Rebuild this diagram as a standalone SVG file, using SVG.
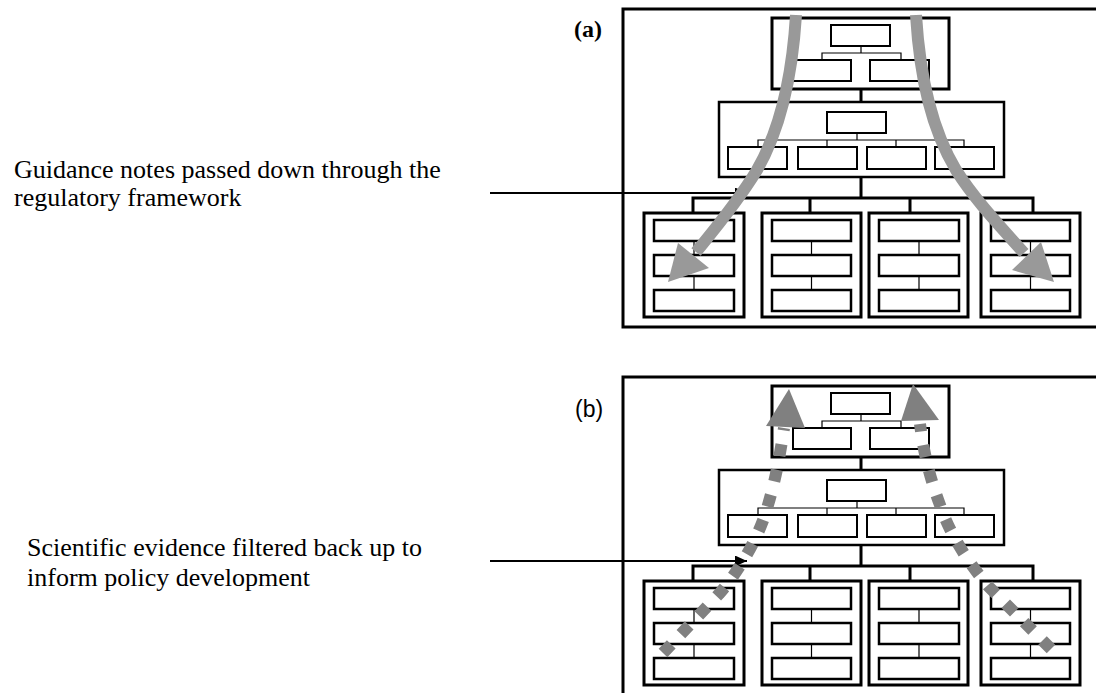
<svg xmlns="http://www.w3.org/2000/svg" width="1096" height="693" viewBox="0 0 1096 693">
<style>
.frame{fill:none;stroke:#000;stroke-width:3}
.big{fill:#fff;stroke:#000;stroke-width:3}
.mid{fill:#fff;stroke:#000;stroke-width:2.5}
.sm{fill:#fff;stroke:#000;stroke-width:2}
.thin{fill:none;stroke:#000;stroke-width:1.2}
.thick{fill:none;stroke:#000;stroke-width:3}
.conn{fill:none;stroke:#000;stroke-width:2}
.lbl{font-family:"Liberation Serif","Times New Roman",serif;font-size:26px;fill:#000}
.down{fill:none;stroke:#999;stroke-width:12}
.downhead{fill:#999}
.up{fill:none;stroke:#808080;stroke-width:12;stroke-dasharray:12 14}
.uphead{fill:#808080}
</style>
<defs>
<marker id="ah" viewBox="0 0 12 11" refX="12" refY="5.5" markerWidth="12" markerHeight="11" markerUnits="userSpaceOnUse" orient="auto">
<path d="M0,0L12,5.5L0,11z" fill="#000"/>
</marker>
</defs>
<rect width="1096" height="693" fill="#fff"/>

<!-- Panel (a) -->
<g id="a-frame"><rect class="frame" x="623" y="9" width="480" height="318"/></g>
<g id="a-label"><text x="574" y="37" font-family="Liberation Serif, serif" font-size="24" font-weight="bold">(a)</text></g>
<g id="a-text"><text class="lbl" x="14" y="178">Guidance notes passed down through the</text><text class="lbl" x="14" y="206">regulatory framework</text></g>
<g id="a-top">
<rect class="big" x="772" y="18" width="177" height="71"/>
<rect class="sm" x="831" y="25" width="59" height="21"/>
<path class="thin" d="M861,46V53M822,60V53H901V60"/>
<rect class="sm" x="793" y="60" width="58" height="21"/>
<rect class="sm" x="870" y="60" width="59" height="21"/>
</g>
<g id="a-mid">
<rect class="mid" x="719" y="102" width="285" height="75"/>
<rect class="sm" x="827" y="112" width="59" height="21"/>
<path class="thin" d="M857,133V140M758,147V140H964V147M827,140V147M896,140V147"/>
<rect class="sm" x="728" y="147" width="59" height="22"/>
<rect class="sm" x="798" y="147" width="59" height="22"/>
<rect class="sm" x="867" y="147" width="59" height="22"/>
<rect class="sm" x="935" y="147" width="59" height="22"/>
</g>
<g id="a-b1">
<rect class="big" x="644" y="213" width="100" height="104"/>
<rect class="mid" x="654" y="220" width="80" height="21"/>
<rect class="mid" x="654" y="255" width="80" height="21"/>
<rect class="mid" x="654" y="290" width="80" height="21"/>
<path class="thin" d="M694,241V255M694,276V290"/>
</g>
<g id="a-b2">
<rect class="big" x="762" y="213" width="99" height="104"/>
<rect class="mid" x="772" y="220" width="79" height="21"/>
<rect class="mid" x="772" y="255" width="79" height="21"/>
<rect class="mid" x="772" y="290" width="79" height="21"/>
<path class="thin" d="M811.5,241V255M811.5,276V290"/>
</g>
<g id="a-b3">
<rect class="big" x="869" y="213" width="99" height="104"/>
<rect class="mid" x="879" y="220" width="80" height="21"/>
<rect class="mid" x="879" y="255" width="80" height="21"/>
<rect class="mid" x="879" y="290" width="80" height="21"/>
<path class="thin" d="M919,241V255M919,276V290"/>
</g>
<g id="a-b4">
<rect class="big" x="981" y="213" width="99" height="104"/>
<rect class="mid" x="991" y="220" width="79" height="21"/>
<rect class="mid" x="991" y="255" width="79" height="21"/>
<rect class="mid" x="991" y="290" width="79" height="21"/>
<path class="thin" d="M1030.5,241V255M1030.5,276V290"/>
</g>

<!-- Panel (b) -->
<g id="b-frame"><rect class="frame" x="623" y="377" width="480" height="330"/></g>
<g id="b-label"><text x="575" y="417" font-family="Liberation Sans, sans-serif" font-size="23">(b)</text></g>
<g id="b-text"><text class="lbl" x="27" y="556">Scientific evidence filtered back up to</text><text class="lbl" x="27" y="586">inform policy development</text></g>
<g id="b-top" transform="translate(0,368)">
<rect class="big" x="772" y="18" width="177" height="71"/>
<rect class="sm" x="831" y="25" width="59" height="21"/>
<path class="thin" d="M861,46V53M822,60V53H901V60"/>
<rect class="sm" x="793" y="60" width="58" height="21"/>
<rect class="sm" x="870" y="60" width="59" height="21"/>
</g>
<g id="b-mid" transform="translate(0,368)">
<rect class="mid" x="719" y="102" width="285" height="75"/>
<rect class="sm" x="827" y="112" width="59" height="21"/>
<path class="thin" d="M857,133V140M758,147V140H964V147M827,140V147M896,140V147"/>
<rect class="sm" x="728" y="147" width="59" height="22"/>
<rect class="sm" x="798" y="147" width="59" height="22"/>
<rect class="sm" x="867" y="147" width="59" height="22"/>
<rect class="sm" x="935" y="147" width="59" height="22"/>
</g>
<g id="b-b1" transform="translate(0,368)">
<rect class="big" x="644" y="213" width="100" height="104"/>
<rect class="mid" x="654" y="220" width="80" height="21"/>
<rect class="mid" x="654" y="255" width="80" height="21"/>
<rect class="mid" x="654" y="290" width="80" height="21"/>
<path class="thin" d="M694,241V255M694,276V290"/>
</g>
<g id="b-b2" transform="translate(0,368)">
<rect class="big" x="762" y="213" width="99" height="104"/>
<rect class="mid" x="772" y="220" width="79" height="21"/>
<rect class="mid" x="772" y="255" width="79" height="21"/>
<rect class="mid" x="772" y="290" width="79" height="21"/>
<path class="thin" d="M811.5,241V255M811.5,276V290"/>
</g>
<g id="b-b3" transform="translate(0,368)">
<rect class="big" x="869" y="213" width="99" height="104"/>
<rect class="mid" x="879" y="220" width="80" height="21"/>
<rect class="mid" x="879" y="255" width="80" height="21"/>
<rect class="mid" x="879" y="290" width="80" height="21"/>
<path class="thin" d="M919,241V255M919,276V290"/>
</g>
<g id="b-b4" transform="translate(0,368)">
<rect class="big" x="981" y="213" width="99" height="104"/>
<rect class="mid" x="991" y="220" width="79" height="21"/>
<rect class="mid" x="991" y="255" width="79" height="21"/>
<rect class="mid" x="991" y="290" width="79" height="21"/>
<path class="thin" d="M1030.5,241V255M1030.5,276V290"/>
</g>

<!-- Connectors -->
<g id="connectors">
<path class="thick" d="M861,89V102M861,177V198M693,213V198H1033V213M810,198V213M910,198V213"/>
<path class="thick" d="M861,457V470M861,545V566M693,581V566H1033V581M810,566V581M910,566V581"/>
<path class="conn" d="M490,193H747" marker-end="url(#ah)"/>
<path class="conn" d="M490,561H747" marker-end="url(#ah)"/>
<path class="down" d="M796,15C792,80 780,130 757,170C737,203 714,230 696,252"/>
<polygon class="downhead" points="668,282 678,243 709,268"/>
<path class="down" d="M916,15C920,80 932,130 956,170C975,200 1000,226 1024,253"/>
<polygon class="downhead" points="1054,282 1012,270 1041,242"/>
<path class="up" d="M663,653L719,594C740,570 760,535 768,505C776,478 780,455 784,428"/>
<polygon class="uphead" points="789,389 766,426 805,428"/>
<path class="up" d="M1051,649L989,587C970,565 950,535 940,505C930,478 924,455 920,424"/>
<polygon class="uphead" points="913,384 901,421 939,420"/>
</g>
</svg>
